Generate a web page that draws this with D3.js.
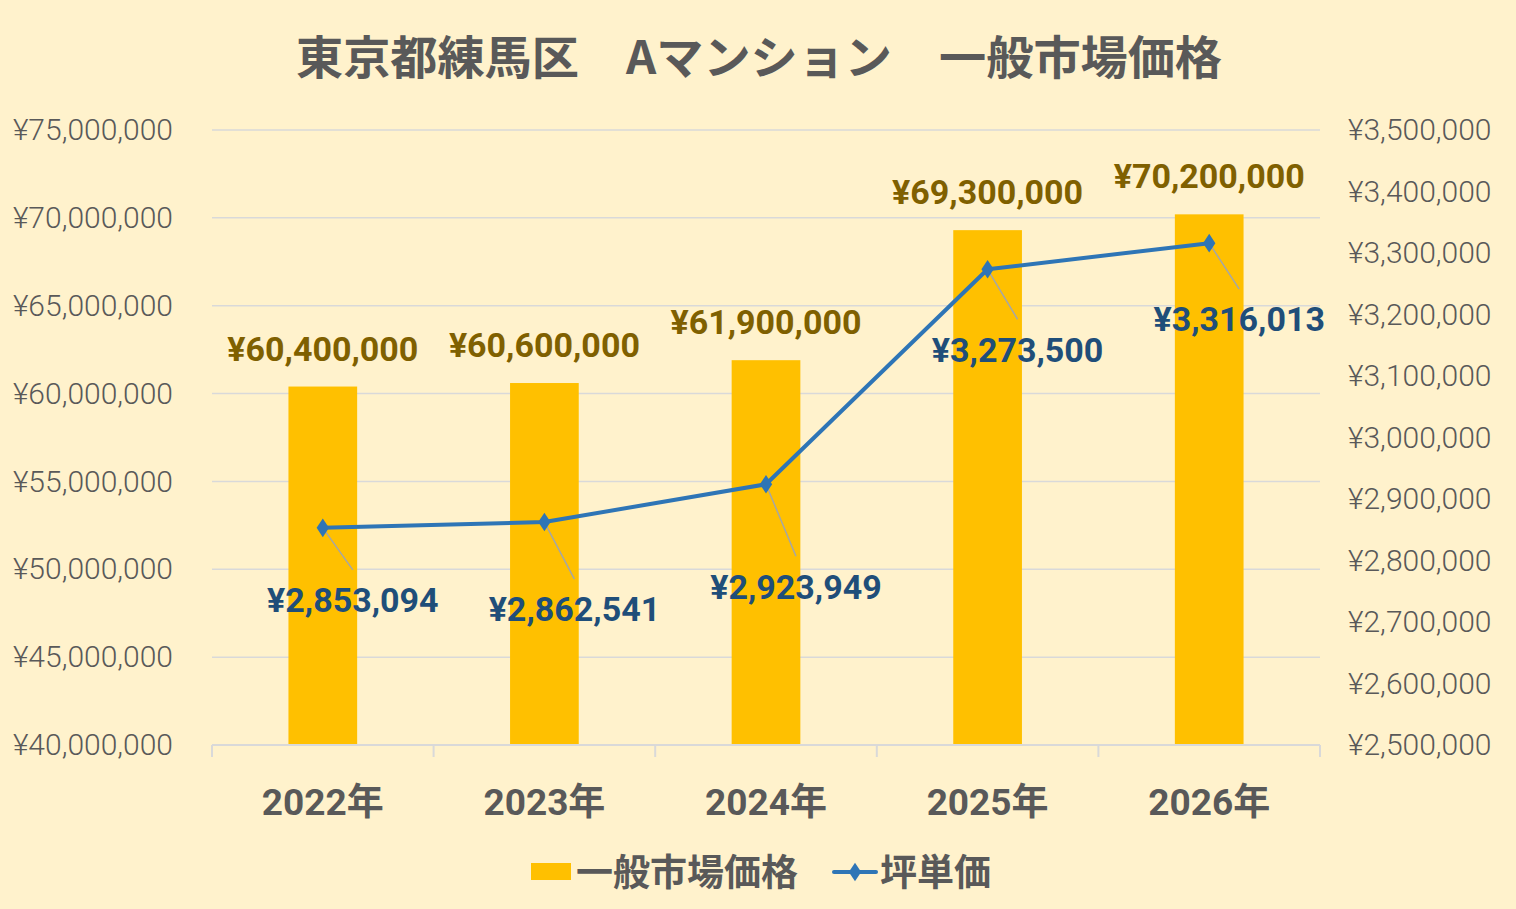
<!DOCTYPE html>
<html lang="ja">
<head>
<meta charset="UTF-8">
<script src="https://d3js.org/d3.v7.min.js"></script>
<style>
  html, body { margin: 0; padding: 0; background: #FFF2CC; }
</style>
</head>
<body>
<div class="chart"></div>
<script>
// data
const years = ["2022年", "2023年", "2024年", "2025年", "2026年"]
const marketPrice = [60400000, 60600000, 61900000, 69300000, 70200000]
const tsuboPrice = [2853094, 2862541, 2923949, 3273500, 3316013]
const leftTicks = [40000000, 45000000, 50000000, 55000000, 60000000, 65000000, 70000000, 75000000]
const rightTicks = [2500000, 2600000, 2700000, 2800000, 2900000, 3000000, 3100000, 3200000, 3300000, 3400000, 3500000]

// label placement for the line (how far below the point the label sits)
const lineLabelDrop = [72, 87, 102, 80, 76]

let width = 1516
let height = 909
let plot = { left: 212, right: 1320, top: 130, bottom: 745 }
const cjkFont = "\"Noto Sans CJK JP\", \"Noto Sans\", sans-serif"
const numFont = "Roboto, \"Noto Sans CJK JP\", sans-serif"

const svg = d3.select(".chart").append("svg")
    .attr("width", width)
    .attr("height", height)

svg.append("rect").attr("width", width).attr("height", height).attr("fill", "#FFF2CC")

const yen = v => "¥" + d3.format(",")(v)

const x = d3.scaleBand()
    .domain(years)
    .range([plot.left, plot.right])
    .paddingInner(0.69)
    .paddingOuter(0.345)
const xOuter = d3.scaleBand().domain(years).range([plot.left, plot.right])

const yLeft = d3.scaleLinear().domain([40000000, 75000000]).range([plot.bottom, plot.top])
const yRight = d3.scaleLinear().domain([2500000, 3500000]).range([plot.bottom, plot.top])

// title
svg.append("text")
    .attr("x", 759).attr("y", 74)
    .attr("text-anchor", "middle")
    .style("font-family", cjkFont)
    .attr("font-size", 46).attr("font-weight", "bold")
    .attr("fill", "#595959")
    .attr("textLength", 926).attr("lengthAdjust", "spacingAndGlyphs")
    .text("東京都練馬区　Aマンション　一般市場価格")

// gridlines
svg.append("g").selectAll("line")
    .data(leftTicks.slice(1))
    .enter().append("line")
    .attr("x1", plot.left).attr("x2", plot.right)
    .attr("y1", d => yLeft(d)).attr("y2", d => yLeft(d))
    .attr("stroke", "#D9D9D9").attr("stroke-width", 1.5)

// left axis
const leftAxis = svg.append("g")
    .attr("transform", "translate(" + (plot.left - 39) + ",0)")
    .call(d3.axisLeft(yLeft).tickValues(leftTicks).tickFormat(yen).tickSize(0).tickPadding(0))
leftAxis.select(".domain").remove()
leftAxis.selectAll("text").attr("font-size", 30).attr("font-weight", 300).attr("fill", "#595959")
    .style("font-family", numFont)

// right axis
const rightAxis = svg.append("g")
    .attr("transform", "translate(" + (plot.right + 28) + ",0)")
    .call(d3.axisRight(yRight).tickValues(rightTicks).tickFormat(yen).tickSize(0).tickPadding(0))
rightAxis.select(".domain").remove()
rightAxis.selectAll("text").attr("font-size", 30).attr("font-weight", 300).attr("fill", "#595959")
    .style("font-family", numFont)

// bars
svg.append("g").selectAll("rect")
    .data(marketPrice)
    .enter().append("rect")
    .attr("x", (d, i) => x(years[i]))
    .attr("width", x.bandwidth())
    .attr("y", d => yLeft(d))
    .attr("height", d => yLeft(40000000) - yLeft(d))
    .attr("fill", "#FFC000")

// bottom axis
const bottomAxis = svg.append("g")
    .attr("transform", "translate(0," + plot.bottom + ")")
    .call(d3.axisBottom(xOuter).tickSize(0).tickPadding(44))
bottomAxis.select(".domain").attr("stroke", "#D9D9D9").attr("stroke-width", 2)
    .attr("d", "M" + plot.left + ",0H" + plot.right)
bottomAxis.selectAll("text").attr("font-size", 37).attr("font-weight", "bold").attr("fill", "#595959")
    .style("font-family", numFont)
bottomAxis.append("g").selectAll("line")
    .data(years.concat(["end"]))
    .enter().append("line")
    .attr("x1", (d, i) => plot.left + i * xOuter.step())
    .attr("x2", (d, i) => plot.left + i * xOuter.step())
    .attr("y1", 0).attr("y2", 12)
    .attr("stroke", "#D9D9D9").attr("stroke-width", 2)

// bar labels
svg.append("g").selectAll("text")
    .data(marketPrice)
    .enter().append("text")
    .attr("x", (d, i) => x(years[i]) + x.bandwidth() / 2)
    .attr("y", d => yLeft(d) - 26)
    .attr("text-anchor", "middle")
    .attr("font-size", 34).attr("font-weight", "bold")
    .style("font-family", numFont)
    .attr("fill", "#7F6000")
    .text(yen)

// line
const cx = i => x(years[i]) + x.bandwidth() / 2
const line = d3.line()
    .x((d, i) => cx(i))
    .y(d => yRight(d))

// leader lines
svg.append("g").selectAll("line")
    .data(tsuboPrice)
    .enter().append("line")
    .attr("x1", (d, i) => cx(i))
    .attr("y1", d => yRight(d))
    .attr("x2", (d, i) => cx(i) + 30)
    .attr("y2", (d, i) => yRight(d) + lineLabelDrop[i] - 30)
    .attr("stroke", "#A6A6A6").attr("stroke-width", 1.5)

svg.append("path")
    .datum(tsuboPrice)
    .attr("d", line)
    .attr("fill", "none")
    .attr("stroke", "#2E75B6")
    .attr("stroke-width", 4)
    .attr("stroke-linejoin", "round")

const diamond = d3.symbol().type(d3.symbolDiamond).size(100)
svg.append("g").selectAll("path")
    .data(tsuboPrice)
    .enter().append("path")
    .attr("d", diamond)
    .attr("transform", (d, i) => "translate(" + cx(i) + "," + yRight(d) + ") scale(1.15,1)")
    .attr("fill", "#2E75B6")

// line labels
svg.append("g").selectAll("text")
    .data(tsuboPrice)
    .enter().append("text")
    .attr("x", (d, i) => cx(i) + 30)
    .attr("y", (d, i) => yRight(d) + lineLabelDrop[i])
    .attr("dy", "0.36em")
    .attr("text-anchor", "middle")
    .attr("font-size", 34).attr("font-weight", "bold")
    .style("font-family", numFont)
    .attr("fill", "#1F4E79")
    .text(yen)

// legend
const legend = svg.append("g").style("font-family", cjkFont)
legend.append("rect")
    .attr("x", 531).attr("y", 863).attr("width", 40).attr("height", 17)
    .attr("fill", "#FFC000")
legend.append("text")
    .attr("x", 576).attr("y", 873).attr("dy", "0.36em")
    .attr("font-size", 37).attr("font-weight", "bold").attr("fill", "#595959")
    .text("一般市場価格")
legend.append("line")
    .attr("x1", 834).attr("x2", 876).attr("y1", 872).attr("y2", 872)
    .attr("stroke", "#2E75B6").attr("stroke-width", 4).attr("stroke-linecap", "round")
legend.append("path")
    .attr("d", diamond)
    .attr("transform", "translate(855,872) scale(1.15,1)")
    .attr("fill", "#2E75B6")
legend.append("text")
    .attr("x", 880).attr("y", 873).attr("dy", "0.36em")
    .attr("font-size", 37).attr("font-weight", "bold").attr("fill", "#595959")
    .text("坪単価")
</script>
</body>
</html>
